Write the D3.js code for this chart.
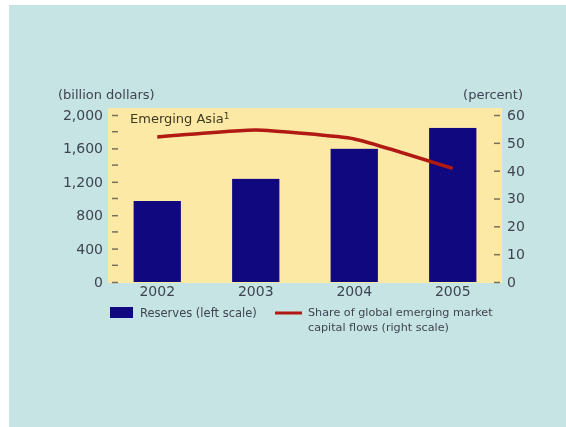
<!DOCTYPE html>
<html>
<head>
<meta charset="utf-8">
<script src="https://cdn.jsdelivr.net/npm/d3@7/dist/d3.min.js"></script>
<style>
  body { margin: 0; background: #fff; }
  svg { display: block; filter: blur(0.35px); }
  text { font-family: "DejaVu Sans", sans-serif; fill: #3e4452; }
</style>
</head>
<body>
<svg id="chart" width="566" height="427"></svg>
<script>
// values
var years = ["2002", "2003", "2004", "2005"];
var reserves = [970, 1235, 1595, 1845];      // billion dollars, left scale
var share = [52.1, 54.6, 51.4, 40.8];         // percent, right scale
var leftTicks = [0, 400, 800, 1200, 1600, 2000];
var leftMinor = [200, 600, 1000, 1400, 1800];
var rightTicks = [0, 10, 20, 30, 40, 50, 60];

var svg = d3.select("#chart");
var width = 566, height = 427;

// background panels
svg.append("rect").attr("x", 9).attr("y", 5)
    .attr("width", width - 9).attr("height", height - 5)
    .attr("fill", "#c6e4e3");

var plot = { left: 108, right: 502, top: 108, bottom: 283 };

svg.append("rect")
    .attr("x", plot.left).attr("y", plot.top)
    .attr("width", plot.right - plot.left).attr("height", plot.bottom - plot.top)
    .attr("fill", "#fde9a6");

var x = d3.scaleBand()
    .domain(years)
    .range([plot.left, plot.right])
    .paddingInner(0.52)
    .paddingOuter(0.26);

var yL = d3.scaleLinear().domain([0, 2000]).range([282, 115]);
var yR = d3.scaleLinear().domain([0, 60]).range([282, 115]);

// bars
svg.append("g").selectAll("rect")
    .data(years)
    .enter()
    .append("rect")
    .attr("x", function(d) { return x(d); })
    .attr("width", x.bandwidth())
    .attr("y", function(d, i) { return yL(reserves[i]); })
    .attr("height", function(d, i) { return yL(0) - yL(reserves[i]); })
    .attr("fill", "#10087e");

// share line
var line = d3.line()
    .x(function(d, i) { return x(years[i]) + x.bandwidth() / 2; })
    .y(function(d) { return yR(d); })
    .curve(d3.curveCardinal.tension(0.6));

svg.append("path")
    .datum(share)
    .attr("d", line)
    .attr("fill", "none")
    .attr("stroke", "#b01a12")
    .attr("stroke-width", 3.5);

// left axis
var gL = svg.append("g")
    .attr("transform", "translate(118,0)")
    .call(d3.axisLeft(yL).tickValues(leftTicks).tickSize(6).tickPadding(9)
        .tickFormat(d3.format(",")));
gL.append("g").selectAll("line")
    .data(leftMinor)
    .enter()
    .append("line")
    .attr("x1", -6).attr("x2", 0)
    .attr("y1", function(d) { return yL(d); })
    .attr("y2", function(d) { return yL(d); });

// right axis
var gR = svg.append("g")
    .attr("transform", "translate(494,0)")
    .call(d3.axisRight(yR).tickValues(rightTicks).tickSize(6).tickPadding(7));

svg.selectAll(".domain").remove();
svg.selectAll(".tick text").attr("font-size", 14).attr("font-family", null)
    .style("fill", "#3e4452");
svg.selectAll(".tick line, g line").attr("stroke", "#7a6f5a").attr("stroke-width", 1.5);

// x labels
var gX = svg.append("g")
    .attr("transform", "translate(0," + plot.bottom + ")")
    .call(d3.axisBottom(x).tickSize(0).tickPadding(3));
gX.select(".domain").remove();
gX.selectAll("text").attr("font-size", 14).attr("font-family", null).style("fill", "#3e4452");

// units
svg.append("text").attr("x", 58).attr("y", 99)
    .attr("font-size", 13).text("(billion dollars)");
svg.append("text").attr("x", 523).attr("y", 99)
    .attr("text-anchor", "end").attr("font-size", 13).text("(percent)");

// region label
var lab = svg.append("text").attr("x", 130).attr("y", 123)
    .attr("font-size", 13).style("fill", "#3d3a22");
lab.append("tspan").text("Emerging Asia");
lab.append("tspan").attr("dy", -4).attr("font-size", 9).text("1");

// legend
svg.append("rect").attr("x", 110).attr("y", 307)
    .attr("width", 23).attr("height", 11).attr("fill", "#10087e");
svg.append("text").attr("x", 140).attr("y", 317)
    .attr("font-size", 11.5).text("Reserves (left scale)");

svg.append("line").attr("x1", 275).attr("x2", 302)
    .attr("y1", 313).attr("y2", 313)
    .attr("stroke", "#b01a12").attr("stroke-width", 3);
svg.append("text").attr("x", 308).attr("y", 316)
    .attr("font-size", 11.2).text("Share of global emerging market");
svg.append("text").attr("x", 308).attr("y", 331)
    .attr("font-size", 11.2).text("capital flows (right scale)");
</script>
</body>
</html>
